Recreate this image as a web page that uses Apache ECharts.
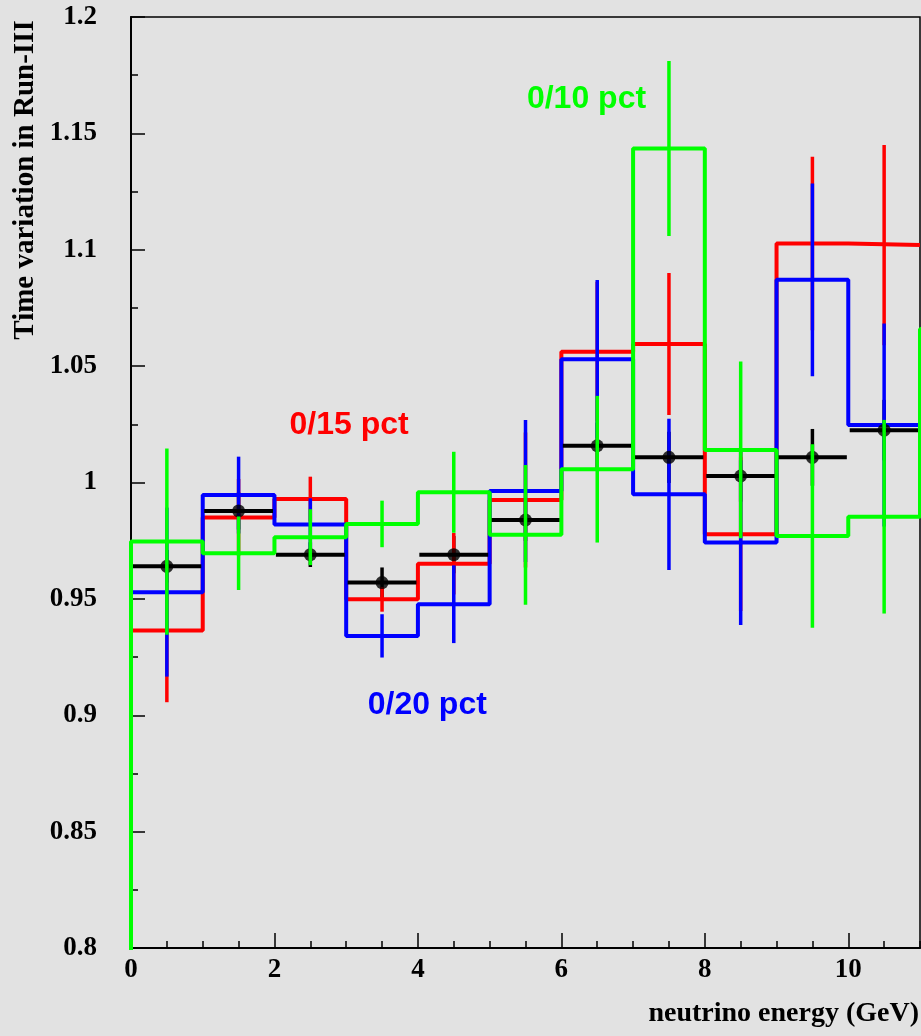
<!DOCTYPE html>
<html>
<head>
<meta charset="utf-8">
<script src="https://cdn.jsdelivr.net/npm/echarts@6/dist/echarts.min.js"></script>
<style>
  html, body { margin: 0; padding: 0; background: #e2e2e2; }
  #chart { width: 921px; height: 1036px; }
</style>
</head>
<body>
<div id="chart"></div>
<script>
// Bin edges run 0..11 GeV in 1 GeV bins; values are the time-variation ratios.
const binLow = [0, 1, 2, 3, 4, 5, 6, 7, 8, 9, 10];
const binCenter = [0.5, 1.5, 2.5, 3.5, 4.5, 5.5, 6.5, 7.5, 8.5, 9.5, 10.5];

// Reference sample (black points)
const dataVal = [0.964, 0.9878, 0.969, 0.957, 0.969, 0.9839, 1.0158, 1.0108, 1.0028, 1.0108, 1.0225];
const dataErr = [0.007, 0.008, 0.0053, 0.0065, 0.008, 0.009, 0.010, 0.011, 0.011, 0.0122, 0.013];

// 0/15 pct (red)
const redVal = [0.9364, 0.985, 0.9929, 0.9498, 0.9651, 0.9925, 1.0562, 1.0595, 0.9778, 1.1027, 1.102];
const redErr = [0.0308, 0.0165, 0.0096, 0.0053, 0.0132, 0.029, 0.030, 0.0305, 0.033, 0.0373, 0.043];

// 0/20 pct (blue)
const blueVal = [0.9529, 0.9946, 0.982, 0.9341, 0.9477, 0.9963, 1.053, 0.9949, 0.9742, 1.0871, 1.0247];
const blueErr = [0.0363, 0.0165, 0.0112, 0.0093, 0.0167, 0.0305, 0.034, 0.0325, 0.0354, 0.0414, 0.0436];

// 0/10 pct (green); the last entry is the 11-12 GeV bin, outside the drawn range
const greenVal = [0.9746, 0.9696, 0.9765, 0.9822, 0.9958, 0.9775, 1.0057, 1.1435, 1.014, 0.977, 0.9853, 1.066];
const greenErr = [0.040, 0.0158, 0.012, 0.010, 0.0174, 0.030, 0.0315, 0.0376, 0.038, 0.0394, 0.0416];

const yTicks = { min: 0.8, max: 1.2, step: 0.05 };
const xTicks = { min: 0, max: 11, step: 2, minorStep: 0.5 };

const labels = [
  { text: '0/10 pct', color: '#00ff00', at: [5.52, 1.1645] },
  { text: '0/15 pct', color: '#ff0000', at: [2.21, 1.0245] },
  { text: '0/20 pct', color: '#0000ff', at: [3.30, 0.9045] }
];

const serif = 'Liberation Serif';

// Outline of a histogram: rises from zero at the first edge, steps at each bin edge.
function histPoints(vals) {
  const pts = [[binLow[0], 0]];
  vals.forEach((v, i) => pts.push([i, v]));
  pts.push([vals.length, vals[vals.length - 1]]);
  return pts;
}

function histSeries(vals, color, z) {
  return {
    type: 'line', step: 'end', data: histPoints(vals), showSymbol: false,
    lineStyle: { color: color, width: 4 }, z: z, animation: false, silent: true,
    clip: true
  };
}

function vErrSeries(vals, errs, color, width, z) {
  return {
    type: 'custom', z: z, animation: false, silent: true,
    data: binCenter.map((c, i) => [c, vals[i], errs[i]]),
    renderItem: function (params, api) {
      const x = api.value(0), y = api.value(1), e = api.value(2);
      const a = api.coord([x, y + e]);
      const b = api.coord([x, y - e]);
      return { type: 'line', shape: { x1: a[0], y1: a[1], x2: b[0], y2: b[1] },
               style: { stroke: color, lineWidth: width } };
    }
  };
}

function hErrSeries(vals, color, z) {
  return {
    type: 'custom', z: z, animation: false, silent: true,
    data: binCenter.map((c, i) => [c, vals[i]]),
    renderItem: function (params, api) {
      const x = api.value(0), y = api.value(1);
      const a = api.coord([x - 0.48, y]);
      const b = api.coord([x + 0.48, y]);
      return { type: 'line', shape: { x1: a[0], y1: a[1], x2: b[0], y2: b[1] },
               style: { stroke: color, lineWidth: 4 } };
    }
  };
}

const chart = echarts.init(document.getElementById('chart'), null, { renderer: 'canvas' });

const gridBox = { left: 131, right: 1, top: 17, bottom: 88 };

chart.setOption({
  backgroundColor: '#e2e2e2',
  animation: false,
  grid: [
    Object.assign({ show: true, borderColor: '#000', borderWidth: 1.5, backgroundColor: 'transparent', outerBoundsMode: 'none' }, gridBox),
    Object.assign({ show: false, outerBoundsMode: 'none' }, gridBox)
  ],
  xAxis: [
    {
      gridIndex: 0, type: 'value', min: xTicks.min, max: xTicks.max, interval: xTicks.step,
      axisLine: { show: true, lineStyle: { color: '#000', width: 2 } },
      axisTick: { show: true, inside: true, length: 15, lineStyle: { color: '#000', width: 1.5 } },
      axisLabel: { show: true, margin: 9, showMaxLabel: false, color: '#000',
                   fontFamily: serif, fontWeight: 'bold', fontSize: 27 },
      splitLine: { show: false }
    },
    {
      gridIndex: 1, type: 'value', min: xTicks.min, max: xTicks.max, interval: xTicks.minorStep,
      axisLine: { show: false },
      axisTick: { show: true, inside: true, length: 7, lineStyle: { color: '#000', width: 1.5 } },
      axisLabel: { show: false },
      splitLine: { show: false }
    }
  ],
  yAxis: [
    {
      gridIndex: 0, type: 'value', min: yTicks.min, max: yTicks.max, interval: yTicks.step,
      axisLine: { show: true, lineStyle: { color: '#000', width: 2 } },
      axisTick: { show: true, inside: true, length: 14, lineStyle: { color: '#000', width: 1.5 } },
      minorTick: { show: true, splitNumber: 2, length: 7, lineStyle: { color: '#000', width: 1.5 } },
      axisLabel: { show: true, margin: 34, color: '#000',
                   fontFamily: serif, fontWeight: 'bold', fontSize: 27 },
      splitLine: { show: false }
    },
    {
      gridIndex: 1, type: 'value', min: yTicks.min, max: yTicks.max, show: false
    }
  ],
  series: [
    vErrSeries(dataVal, dataErr, '#000000', 3.5, 1),
    histSeries(redVal, '#ff0000', 2),
    vErrSeries(redVal, redErr, '#ff0000', 3.5, 3),
    histSeries(blueVal, '#0000ff', 4),
    vErrSeries(blueVal, blueErr, '#0000ff', 3.5, 5),
    hErrSeries(dataVal, '#000000', 6),
    {
      type: 'scatter', z: 7, animation: false, silent: true,
      data: binCenter.map((c, i) => [c, dataVal[i]]),
      symbol: 'circle', symbolSize: 13, itemStyle: { color: '#000' }
    },
    histSeries(greenVal, '#00ff00', 8),
    vErrSeries(greenVal, greenErr, '#00ff00', 3.5, 9)
  ]
});

// Axis titles and series annotations
const graphics = [
  {
    type: 'text', x: 26, y: 180, rotation: Math.PI / 2,
    style: { text: 'Time variation in Run-III', fill: '#000', align: 'center', verticalAlign: 'middle',
             font: 'bold 29px "Liberation Serif"' }
  },
  {
    type: 'text', x: 919, y: 1014,
    style: { text: 'neutrino energy (GeV)', fill: '#000', align: 'right', verticalAlign: 'middle',
             font: 'bold 28px "Liberation Serif"' }
  }
];
labels.forEach(l => {
  const p = chart.convertToPixel({ gridIndex: 0 }, l.at);
  graphics.push({
    type: 'text', x: p[0], y: p[1],
    style: { text: l.text, fill: l.color, align: 'left', verticalAlign: 'middle',
             font: 'bold 32px "Liberation Sans"' }
  });
});
chart.setOption({ graphic: graphics });
</script>
</body>
</html>
